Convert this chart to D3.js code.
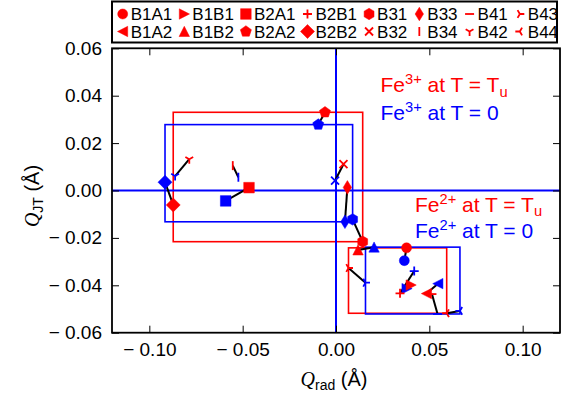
<!DOCTYPE html>
<html>
<head>
<meta charset="utf-8">
<script src="https://cdn.jsdelivr.net/npm/d3@7"></script>
<style>
  body { margin: 0; background: #fff; }
  svg text { font-family: "Liberation Sans", Arial, sans-serif; }
</style>
</head>
<body>
<div class="chart-div"></div>
<script>
// structures (legend order) and the Fe site each one was measured on
const structures = ["B1A1", "B1A2", "B1B1", "B1B2", "B2A1", "B2A2", "B2B1", "B2B2",
                    "B31", "B32", "B33", "B34", "B41", "B42", "B43", "B44"];
const feSite = ["Fe2+", "Fe2+", "Fe2+", "Fe2+", "Fe3+", "Fe3+", "Fe2+", "Fe3+",
                "Fe3+", "Fe3+", "Fe3+", "Fe3+", "Fe2+", "Fe3+", "Fe2+", "Fe2+"];

// Q_rad / Q_JT at T = Tu (red)
const qradTu = [0.0378, 0.0485, 0.0402, 0.0118, -0.0466, -0.0059, 0.0343, -0.0872,
                0.0143, 0.0040, 0.0061, -0.0553, 0.0514, -0.0786, 0.0067, 0.0593];
const qjtTu  = [-0.0242, -0.0435, -0.0399, -0.0251, 0.0012, 0.0330, -0.0434, -0.0061,
                -0.0216, 0.0111, 0.0013, 0.0105, -0.0437, 0.0132, -0.0327, -0.0518];
// Q_rad / Q_JT at T = 0 (blue)
const qrad0 = [0.0366, 0.0546, 0.0380, 0.0204, -0.0591, -0.0095, 0.0419, -0.0916,
               0.0089, -0.0005, 0.0048, -0.0523, 0.0544, -0.0862, 0.0158, 0.0664];
const qjt0  = [-0.0296, -0.0393, -0.0414, -0.0239, -0.0044, 0.0278, -0.0340, 0.0035,
               -0.0122, 0.0042, -0.0132, 0.0056, -0.0521, 0.0061, -0.0389, -0.0508];

const xTicks = [-0.10, -0.05, 0.00, 0.05, 0.10];
const yTicks = [-0.06, -0.04, -0.02, 0.00, 0.02, 0.04, 0.06];

// marker style for each structure (matplotlib codes)
const markers = ["o", "<", ">", "^", "s", "p", "+", "D", "h", "x", "d", "|", "_", "1", "4", "3"];

const width = 562, height = 394;
const margin = {left: 112, right: 2, top: 48.3, bottom: 61.3};
const red = "#ff0000", blue = "#0000ff";

const svg = d3.select(".chart-div").append("svg")
    .attr("width", width)
    .attr("height", height);

const x = d3.scaleLinear().domain([-0.12, 0.12]).range([margin.left, width - margin.right]);
const y = d3.scaleLinear().domain([-0.06, 0.06]).range([height - margin.bottom, margin.top]);

const filled = "o<>^sDdph";

function polygon(n, r, rot) {
    let pts = d3.range(n).map(k => {
        let a = rot + k * 2 * Math.PI / n;
        return [r * Math.cos(a), r * Math.sin(a)];
    });
    return "M" + pts.map(p => p[0].toFixed(2) + "," + p[1].toFixed(2)).join("L") + "Z";
}

function markerPath(m) {
    switch (m) {
        case "o": return "M5,0A5,5 0 1,1 -5,0A5,5 0 1,1 5,0Z";
        case "^": return "M0,-5.2L5.2,5L-5.2,5Z";
        case "<": return "M-5.2,0L5,-5.2L5,5.2Z";
        case ">": return "M5.2,0L-5,-5.2L-5,5.2Z";
        case "s": return "M-5.3,-5.3h10.6v10.6h-10.6Z";
        case "D": return "M0,-7L7,0L0,7L-7,0Z";
        case "d": return "M0,-6.8L4.2,0L0,6.8L-4.2,0Z";
        case "p": return polygon(5, 5.8, -Math.PI / 2);
        case "h": return polygon(6, 5.7, -Math.PI / 2);
        case "+": return "M-4.5,0H4.5M0,-4.5V4.5";
        case "x": return "M-4,-4L4,4M-4,4L4,-4";
        case "|": return "M0,-4.5V4.5";
        case "_": return "M-4.5,0H4.5";
        case "1": return "M0,0V4.5M0,0L-3.9,-2.25M0,0L3.9,-2.25";
        case "4": return "M0,0H4.5M0,0L-2.25,-3.9M0,0L-2.25,3.9";
        case "3": return "M0,0H-4.5M0,0L2.25,-3.9M0,0L2.25,3.9";
    }
}

function drawMarker(g, m, color) {
    let p = g.append("path").attr("d", markerPath(m));
    if (filled.includes(m)) {
        p.attr("fill", color).attr("stroke", color).attr("stroke-width", 0.5);
    } else {
        p.attr("fill", "none").attr("stroke", color).attr("stroke-width", 1.8);
    }
    return p;
}

let points = structures.map((name, i) => ({
    name: name, site: feSite[i], marker: markers[i],
    xTu: qradTu[i], yTu: qjtTu[i], x0: qrad0[i], y0: qjt0[i]
}));

// bounding boxes per site and temperature
let boxes = [];
["Fe3+", "Fe2+"].forEach(site => {
    let pts = points.filter(p => p.site === site);
    boxes.push({color: red, xs: d3.extent(pts, p => p.xTu), ys: d3.extent(pts, p => p.yTu)});
    boxes.push({color: blue, xs: d3.extent(pts, p => p.x0), ys: d3.extent(pts, p => p.y0)});
});

svg.selectAll("rect.box")
    .data(boxes)
    .enter().append("rect")
    .attr("class", "box")
    .attr("x", d => x(d.xs[0]))
    .attr("y", d => y(d.ys[1]))
    .attr("width", d => x(d.xs[1]) - x(d.xs[0]))
    .attr("height", d => y(d.ys[0]) - y(d.ys[1]))
    .attr("fill", "none")
    .attr("stroke", d => d.color)
    .attr("stroke-width", 1.6);

// zero lines
svg.append("line")
    .attr("x1", x(-0.12)).attr("x2", x(0.12))
    .attr("y1", y(0)).attr("y2", y(0))
    .attr("stroke", blue).attr("stroke-width", 2);
svg.append("line")
    .attr("x1", x(0)).attr("x2", x(0))
    .attr("y1", y(-0.06)).attr("y2", y(0.06))
    .attr("stroke", blue).attr("stroke-width", 2);

// pair lines T=0 -> T=Tu
svg.selectAll("line.pair")
    .data(points)
    .enter().append("line")
    .attr("class", "pair")
    .attr("x1", d => x(d.x0)).attr("y1", d => y(d.y0))
    .attr("x2", d => x(d.xTu)).attr("y2", d => y(d.yTu))
    .attr("stroke", "#000").attr("stroke-width", 2);

points.forEach(d => {
    let g = svg.append("g").attr("transform", `translate(${x(d.x0)},${y(d.y0)})`);
    drawMarker(g, d.marker, blue);
});
points.forEach(d => {
    let g = svg.append("g").attr("transform", `translate(${x(d.xTu)},${y(d.yTu)})`);
    drawMarker(g, d.marker, red);
});

// axes, ticks pointing inward on all four sides
const fmt = d => d < 0 ? "\u2212 " + Math.abs(d).toFixed(2) : d.toFixed(2);

function styleAxis(g) {
    g.select(".domain").remove();
    g.selectAll(".tick line").attr("stroke", "#000").attr("stroke-width", 1);
    g.selectAll("text").attr("font-size", 19).attr("fill", "#000")
        .style("font-family", '"Liberation Sans", Arial, sans-serif');
}

svg.append("g")
    .attr("transform", `translate(0,${y(-0.06)})`)
    .call(d3.axisBottom(x).tickValues(xTicks).tickSize(-7).tickPadding(10).tickFormat(fmt))
    .call(styleAxis);
svg.append("g")
    .attr("transform", `translate(0,${y(0.06)})`)
    .call(d3.axisTop(x).tickValues(xTicks).tickSize(-7).tickFormat(""))
    .call(styleAxis);
svg.append("g")
    .attr("transform", `translate(${x(-0.12)},0)`)
    .call(d3.axisLeft(y).tickValues(yTicks).tickSize(-7).tickPadding(10).tickFormat(fmt))
    .call(styleAxis);
svg.append("g")
    .attr("transform", `translate(${x(0.12)},0)`)
    .call(d3.axisRight(y).tickValues(yTicks).tickSize(-7).tickFormat(""))
    .call(styleAxis);

svg.append("rect")
    .attr("x", x(-0.12)).attr("y", y(0.06))
    .attr("width", x(0.12) - x(-0.12))
    .attr("height", y(-0.06) - y(0.06))
    .attr("fill", "none").attr("stroke", "#000").attr("stroke-width", 1.8);

// axis labels
let xl = svg.append("text")
    .attr("x", 334).attr("y", 386)
    .attr("text-anchor", "middle")
    .attr("font-size", 20);
xl.append("tspan").text("Q").style("font-family", '"Liberation Serif", serif').attr("font-style", "italic");
xl.append("tspan").text("rad").attr("font-size", 14).attr("dy", 4);
xl.append("tspan").text(" (\u00c5)").attr("dy", -4);

let yl = svg.append("text")
    .attr("transform", "translate(39,196) rotate(-90)")
    .attr("text-anchor", "middle")
    .attr("font-size", 20);
yl.append("tspan").text("Q").style("font-family", '"Liberation Serif", serif').attr("font-style", "italic");
yl.append("tspan").text("JT").attr("font-size", 14).attr("dy", 4);
yl.append("tspan").text(" (\u00c5)").attr("dy", -4);

// annotations
function annotate(px, py, ion, temp, color, subU) {
    let t = svg.append("text").attr("x", px).attr("y", py)
        .attr("font-size", 21).attr("fill", color);
    t.append("tspan").text("Fe");
    t.append("tspan").text(ion).attr("font-size", 14.7).attr("dy", -8);
    t.append("tspan").text(" at T = " + temp).attr("dy", 8);
    if (subU) t.append("tspan").text("u").attr("font-size", 14.7).attr("dy", 4.5);
}
annotate(380.5, 92.3, "3+", "T", red, true);
annotate(380.5, 120, "3+", "0", blue, false);
annotate(415, 211.7, "2+", "T", red, true);
annotate(415, 238.3, "2+", "0", blue, false);

// legend box above the axes
const legendBox = svg.append("rect")
    .attr("x", 112).attr("y", 1.5)
    .attr("width", 445).attr("height", 41)
    .attr("fill", "#fff").attr("stroke", "#000").attr("stroke-width", 2);

let legend = svg.selectAll("g.legend")
    .data(points)
    .enter().append("g")
    .attr("class", "legend");

legend.each(function(d) {
    drawMarker(d3.select(this), d.marker, red);
});
legend.append("text")
    .attr("x", 8)
    .attr("dy", "0.36em")
    .attr("font-size", 17)
    .attr("fill", "#000")
    .text(d => d.name);

// column layout from label widths
let colX = 122.7;
for (let c = 0; c < 8; c++) {
    let widest = 0;
    legend.filter((d, i) => Math.floor(i / 2) === c).each(function(d, i) {
        let row = i;
        d3.select(this).attr("transform", `translate(${colX},${row === 0 ? 14 : 31.5})`);
        widest = Math.max(widest, d3.select(this).select("text").node().getComputedTextLength());
    });
    colX += 8 + widest + 12;
}
</script>
</body>
</html>
